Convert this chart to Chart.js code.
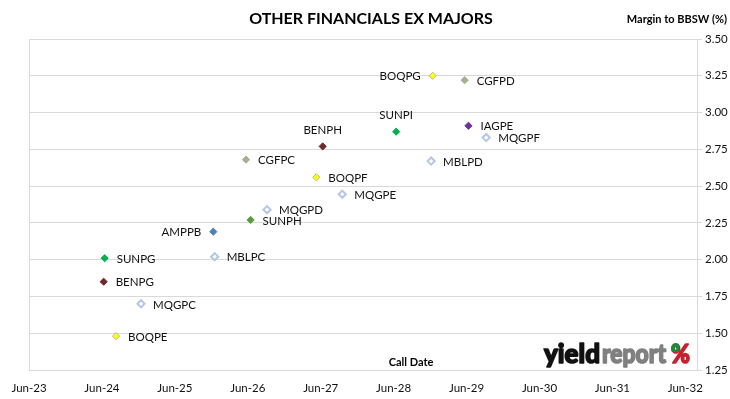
<!DOCTYPE html>
<html>
<head>
<meta charset="utf-8">
<script src="https://cdn.jsdelivr.net/npm/chart.js@4/dist/chart.umd.min.js"></script>
<style>
  html, body { margin: 0; padding: 0; background: #fff; }
  #wrap { width: 730px; height: 399px; }
</style>
</head>
<body>
<div id="wrap"><canvas id="chart" width="730" height="399"></canvas></div>
<script>
// ---------- data ----------
const securities = ["BOQPG", "CGFPD", "SUNPI", "IAGPE", "MQGPF", "MBLPD", "BENPH", "CGFPC", "BOQPF",
                    "MQGPE", "MQGPD", "SUNPH", "AMPPB", "MBLPC", "SUNPG", "BENPG", "MQGPC", "BOQPE"];
const callDates  = ["2028-12-27", "2029-06-05", "2028-06-27", "2029-06-24", "2029-09-21", "2028-12-19",
                    "2027-06-25", "2026-06-06", "2027-05-24", "2027-10-01", "2026-09-19", "2026-06-29",
                    "2025-12-24", "2025-12-31", "2024-06-28", "2024-06-23", "2024-12-27", "2024-08-24"];
const margins    = [3.25, 3.22, 2.87, 2.91, 2.83, 2.67, 2.77, 2.68, 2.56,
                    2.445, 2.34, 2.27, 2.19, 2.02, 2.01, 1.85, 1.70, 1.48];
const xTickLabels = ["Jun-23", "Jun-24", "Jun-25", "Jun-26", "Jun-27", "Jun-28", "Jun-29", "Jun-30", "Jun-31", "Jun-32"];

// ---------- styles ----------
const AXIS_START = Date.UTC(2023, 5, 15);   // Jun-23 tick
const YEAR_MS = 365.25 * 864e5;
const FONT = "Lato, 'Open Sans', sans-serif";

const toYears = d => {
  const [y, m, day] = d.split("-").map(Number);
  return (Date.UTC(y, m - 1, day) - AXIS_START) / YEAR_MS;
};

const styleFor = name => {
  if (name.startsWith("BOQ")) return { bg: "#FFFF1A", border: "#B5B58A", w: 1 };
  if (name.startsWith("CGF")) return { bg: "#A9B47A", border: "#95A7C0", w: 1 };
  if (name === "SUNPH")       return { bg: "#5E9B3C", border: "#5E9B3C", w: 1 };
  if (name.startsWith("SUN")) return { bg: "#00B050", border: "#00B050", w: 1 };
  if (name.startsWith("IAG")) return { bg: "#7030A0", border: "#7030A0", w: 1 };
  if (name.startsWith("BEN")) return { bg: "#6E2A2A", border: "#6E2A2A", w: 1 };
  if (name.startsWith("AMP")) return { bg: "#4F81BD", border: "#4F81BD", w: 1 };
  return { bg: "#FFFFFF", border: "#B4C7E7", w: 2 };   // MQG / MBL hollow
};

// where each label sits relative to its marker (default: right)
const labelSide = { BOQPG: "left", AMPPB: "left", SUNPI: "above", BENPH: "above" };

const styles = securities.map(styleFor);
const points = securities.map((s, i) => ({ x: toYears(callDates[i]), y: margins[i] }));

/* ---------- plugins ---------- */
const pointLabels = {
  id: "pointLabels",
  afterDatasetsDraw(chart) {
    const { ctx } = chart;
    const meta = chart.getDatasetMeta(0);
    ctx.save();
    ctx.font = "11.5px " + FONT;
    ctx.fillStyle = "#111";
    meta.data.forEach((pt, i) => {
      const side = labelSide[securities[i]] || "right";
      if (side === "above") {
        ctx.textAlign = "center"; ctx.textBaseline = "middle";
        ctx.fillText(securities[i], pt.x, pt.y - 16);
      } else if (side === "left") {
        ctx.textAlign = "right"; ctx.textBaseline = "middle";
        ctx.fillText(securities[i], pt.x - 12, pt.y + 1);
      } else {
        ctx.textAlign = "left"; ctx.textBaseline = "middle";
        ctx.fillText(securities[i], pt.x + 12, pt.y + 1);
      }
    });
    ctx.restore();
  }
};

const frame = {
  id: "frame",
  beforeDatasetsDraw(chart) {
    const { ctx, chartArea: a } = chart;
    ctx.save();
    ctx.strokeStyle = "#D9D9D9";
    ctx.lineWidth = 1;
    ctx.beginPath();
    ctx.moveTo(Math.round(a.left) + 0.5, a.top);
    ctx.lineTo(Math.round(a.left) + 0.5, a.bottom);
    ctx.stroke();
    ctx.restore();
  }
};

const texts = {
  id: "texts",
  afterDraw(chart) {
    const { ctx } = chart;
    ctx.save();
    ctx.fillStyle = "#000";
    ctx.textBaseline = "middle";
    ctx.font = "bold 16px " + FONT;
    ctx.textAlign = "center";
    ctx.fillText("OTHER FINANCIALS EX MAJORS", 371, 19);
    ctx.font = "bold 11px " + FONT;
    ctx.textAlign = "right";
    ctx.fillText("Margin to BBSW (%)", 727, 19);
    ctx.textAlign = "center";
    ctx.fillText("Call Date", 411, 362);

    // yieldreport logo (stroked a little to get the heavy weight)
    const part = (txt, x, w, color) => {
      ctx.save();
      ctx.font = "900 27px " + FONT;
      const m = ctx.measureText(txt).width;
      ctx.translate(x, 363);
      ctx.scale(w / m, 1);
      ctx.fillStyle = color;
      ctx.strokeStyle = color;
      ctx.lineWidth = 1.6;
      ctx.lineJoin = "round";
      ctx.textAlign = "left";
      ctx.textBaseline = "alphabetic";
      ctx.fillText(txt, 0, 0);
      ctx.strokeText(txt, 0, 0);
      ctx.restore();
    };
    part("yield", 544, 56, "#111");
    part("report", 602, 64, "#808080");
    part("%", 671, 19, "#C8202E");
    ctx.save();
    ctx.beginPath();
    ctx.rect(668, 340, 11, 12);
    ctx.clip();
    part("%", 671, 19, "#1E8A3C");
    ctx.restore();
    ctx.restore();
  }
};

/* ---------- chart ---------- */
new Chart(document.getElementById("chart"), {
  type: "scatter",
  data: {
    datasets: [{
      data: points,
      pointStyle: "rectRot",
      pointRadius: 3.6,
      pointHoverRadius: 3.6,
      pointBackgroundColor: styles.map(s => s.bg),
      pointBorderColor: styles.map(s => s.border),
      pointBorderWidth: styles.map(s => s.w)
    }]
  },
  options: {
    responsive: false,
    animation: false,
    devicePixelRatio: 1,
    layout: { padding: { left: 29, top: 39, right: 0, bottom: 0 } },
    plugins: { legend: { display: false }, tooltip: { enabled: false } },
    scales: {
      x: {
        type: "linear",
        min: 0,
        max: 9.16,
        afterBuildTicks: s => { s.ticks = xTickLabels.map((_, i) => ({ value: i })); },
        afterFit: s => { s.height = 29; },
        grid: { display: false },
        border: { display: true, color: "#D9D9D9" },
        ticks: {
          autoSkip: false, maxRotation: 0, padding: 3,
          color: "#111", font: { family: FONT, size: 11.5 },
          callback: v => xTickLabels[v]
        }
      },
      y: {
        position: "right",
        min: 1.25,
        max: 3.5,
        afterFit: s => { s.width = 33; },
        grid: { color: "#D9D9D9", drawTicks: true, tickLength: 5 },
        border: { display: true, color: "#D9D9D9" },
        ticks: {
          stepSize: 0.25, padding: 3,
          color: "#111", font: { family: FONT, size: 11.5 },
          callback: v => v.toFixed(2)
        }
      }
    }
  },
  plugins: [frame, pointLabels, texts]
});
</script>
</body>
</html>
